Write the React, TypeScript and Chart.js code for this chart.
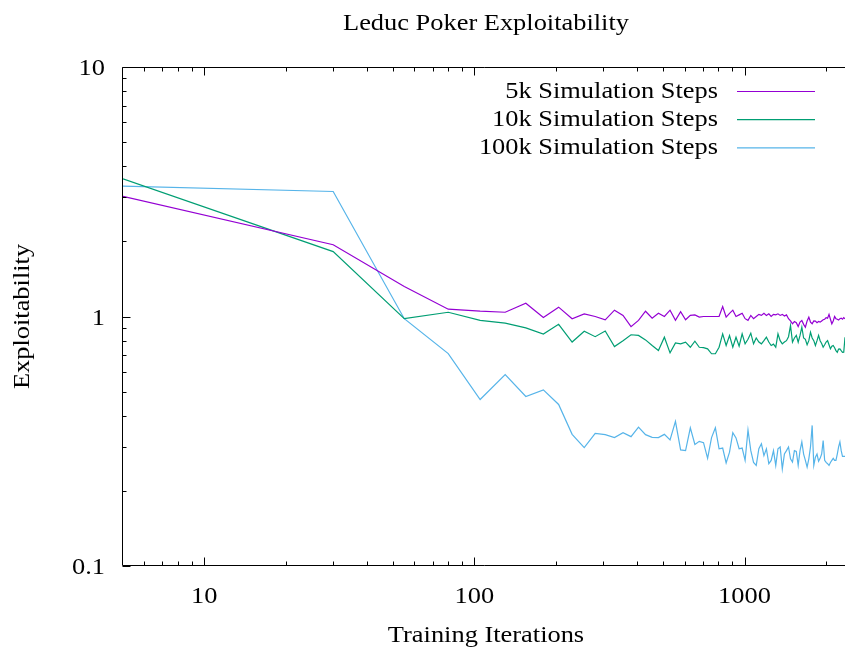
import { useEffect, useRef } from "react";
import { Chart, registerables } from "chart.js";

Chart.register(...registerables);

const iterations = [
  5, 30, 55, 80, 105, 130, 155, 180, 205, 230,
  255, 280, 305, 330, 355, 380, 405, 430, 455, 480,
  505, 530, 555, 580, 605, 630, 655, 680, 705, 730,
  755, 780, 805, 830, 855, 880, 905, 930, 955, 980,
  1005, 1030, 1055, 1080, 1105, 1130, 1155, 1180, 1205, 1230,
  1255, 1280, 1305, 1330, 1355, 1380, 1405, 1430, 1455, 1480,
  1505, 1530, 1555, 1580, 1605, 1630, 1655, 1680, 1705, 1730,
  1755, 1780, 1805, 1830, 1855, 1880, 1905, 1930, 1955, 1980,
  2005, 2030, 2055, 2080, 2105, 2130, 2155, 2180, 2205, 2230,
  2255, 2280, 2305, 2330, 2355,
];

const steps5k = [
  3.03, 1.94, 1.32, 1.07, 1.05, 1.04, 1.13, 0.99, 1.09, 0.98,
  1.025, 1.0, 0.97, 1.06, 1.01, 0.91, 0.965, 1.05, 0.985, 1.03,
  1.0, 1.06, 0.965, 1.045, 0.97, 1.01, 1.015, 0.995, 1.0, 1.0,
  1.0, 1.0, 1.0, 1.095, 0.995, 1.03, 1.06, 1.0, 1.015, 1.03,
  0.98, 0.965, 1.01, 0.98, 1.0, 1.02, 1.01, 1.03, 1.01, 1.025,
  1.0, 1.02, 1.015, 1.025, 1.01, 1.02, 1.005, 1.015, 0.98, 0.96,
  0.935, 0.955, 0.945, 0.912, 0.95, 0.964, 0.93, 0.906, 0.96, 0.994,
  0.95, 0.935, 0.96, 0.958, 0.945, 0.955, 0.949, 0.96, 0.97, 0.975,
  0.99, 0.985, 1.02, 0.975, 0.935, 0.96, 1.0, 0.98, 0.975, 0.968,
  0.98, 0.985, 0.975, 0.99, 0.98,
];

const steps10k = [
  3.56, 1.82, 0.98, 1.04, 0.965, 0.94, 0.9, 0.85, 0.93, 0.79,
  0.873, 0.83, 0.875, 0.758, 0.8, 0.845, 0.84, 0.806, 0.765, 0.731,
  0.826, 0.715, 0.784, 0.777, 0.789, 0.753, 0.796, 0.753, 0.75, 0.742,
  0.709, 0.709, 0.753, 0.852, 0.765, 0.839, 0.753, 0.826, 0.76, 0.852,
  0.777, 0.81, 0.857, 0.777, 0.82, 0.79, 0.777, 0.8, 0.826, 0.79,
  0.765, 0.775, 0.753, 0.852, 0.8, 0.777, 0.79, 0.8, 0.83, 0.92,
  0.789, 0.82, 0.84, 0.789, 0.84, 0.906, 0.82, 0.81, 0.77, 0.8,
  0.865, 0.82, 0.8, 0.765, 0.8, 0.84, 0.8, 0.78, 0.753, 0.77,
  0.79, 0.8, 0.77, 0.742, 0.76, 0.765, 0.75, 0.73, 0.719, 0.74,
  0.742, 0.73, 0.719, 0.72, 0.826,
];

const steps100k = [
  3.33, 3.17, 0.98, 0.71, 0.465, 0.585, 0.478, 0.508, 0.444, 0.337,
  0.298, 0.34, 0.336, 0.327, 0.342, 0.33, 0.36, 0.336, 0.328, 0.327,
  0.337, 0.32, 0.38, 0.292, 0.29, 0.358, 0.307, 0.316, 0.312, 0.27,
  0.327, 0.358, 0.295, 0.297, 0.259, 0.286, 0.342, 0.326, 0.295, 0.297,
  0.265, 0.351, 0.29, 0.26, 0.253, 0.295, 0.309, 0.277, 0.295, 0.257,
  0.265, 0.29, 0.253, 0.295, 0.3, 0.245, 0.281, 0.29, 0.3, 0.269,
  0.261, 0.29, 0.288, 0.253, 0.29, 0.314, 0.281, 0.265, 0.249, 0.269,
  0.3, 0.366, 0.253, 0.273, 0.281, 0.263, 0.27, 0.281, 0.318, 0.265,
  0.26, 0.257, 0.253, 0.26, 0.265, 0.27, 0.265, 0.265, 0.281, 0.3,
  0.314, 0.29, 0.275, 0.275, 0.275,
];

const seriesLabels = ["5k Simulation Steps", "10k Simulation Steps", "100k Simulation Steps"];
const seriesColors = ["#9400d3", "#009e73", "#56b4e9"];
const xMajorTicks = [10, 100, 1000];
const xTickLabels = ["10", "100", "1000"];
const yMajorTicks = [0.1, 1, 10];
const yTickLabels = ["0.1", "1", "10"];
const titleText = "Leduc Poker Exploitability";
const xTitleText = "Training Iterations";
const yTitleText = "Exploitability";

const FONT = '24px "Liberation Serif", "Times New Roman", serif';
const SX = 1.1;

function stretchedText(
  ctx: CanvasRenderingContext2D,
  text: string,
  x: number,
  y: number,
  align: CanvasTextAlign,
  rotate = false
) {
  ctx.save();
  ctx.translate(x, y);
  if (rotate) ctx.rotate(-Math.PI / 2);
  ctx.scale(SX, 1);
  ctx.textAlign = align;
  ctx.textBaseline = "alphabetic";
  ctx.fillText(text, 0, 0);
  ctx.restore();
}

function minorValues(min: number, max: number) {
  const out: number[] = [];
  for (let e = Math.floor(Math.log10(min)); e <= Math.ceil(Math.log10(max)); e++) {
    for (let m = 2; m <= 9; m++) {
      const v = m * Math.pow(10, e);
      if (v > min && v < max) out.push(v);
    }
  }
  return out;
}

const decorPlugin = {
  id: "decor",
  afterDatasetsDraw(chart: any) {
    const { ctx, chartArea: a, scales } = chart;
    const xs = scales.x;
    const ys = scales.y;
    ctx.save();
    ctx.strokeStyle = "#000";
    ctx.fillStyle = "#000";
    ctx.lineWidth = 1;

    const L = Math.round(a.left) - 0.5;
    const T = Math.round(a.top) + 0.5;
    const B = Math.round(a.bottom) - 0.5;

    // border
    ctx.beginPath();
    ctx.moveTo(a.right + 1, T);
    ctx.lineTo(L, T);
    ctx.lineTo(L, B);
    ctx.lineTo(a.right + 1, B);
    ctx.stroke();

    const major = 8;
    const minor = 4;
    ctx.beginPath();
    const xTick = (v: number, len: number) => {
      const px = Math.round(xs.getPixelForValue(v)) + 0.5;
      ctx.moveTo(px, B);
      ctx.lineTo(px, B - len);
      ctx.moveTo(px, T);
      ctx.lineTo(px, T + len);
    };
    const yTick = (v: number, len: number) => {
      const py = Math.round(ys.getPixelForValue(v)) + 0.5;
      ctx.moveTo(L, py);
      ctx.lineTo(L + len, py);
    };
    xMajorTicks.forEach((v) => xTick(v, major));
    minorValues(xs.min, xs.max).forEach((v) => xTick(v, minor));
    yMajorTicks.forEach((v) => yTick(v, major));
    minorValues(ys.min, ys.max).forEach((v) => yTick(v, minor));
    ctx.stroke();

    ctx.font = FONT;
    // tick labels
    xMajorTicks.forEach((v, i) => {
      stretchedText(ctx, xTickLabels[i], xs.getPixelForValue(v), a.bottom + 37, "center");
    });
    yMajorTicks.forEach((v, i) => {
      stretchedText(ctx, yTickLabels[i], a.left - 18, ys.getPixelForValue(v) + 8, "right");
    });

    // titles
    const cx = (a.left + a.right) / 2 + 2;
    stretchedText(ctx, titleText, cx, 30, "center");
    stretchedText(ctx, xTitleText, cx, a.bottom + 76, "center");
    stretchedText(ctx, yTitleText, 29, (a.top + a.bottom) / 2, "center", true);

    // legend
    chart.data.datasets.forEach((ds: any, i: number) => {
      const base = a.top + 30.5 + i * 28.2;
      stretchedText(ctx, ds.label, a.right - 127, base, "right");
      ctx.beginPath();
      ctx.strokeStyle = ds.borderColor;
      ctx.lineWidth = 1.2;
      ctx.moveTo(a.right - 108, base - 6);
      ctx.lineTo(a.right - 30, base - 6);
      ctx.stroke();
    });
    ctx.restore();
  },
};

export default function App() {
  const ref = useRef<HTMLCanvasElement>(null);
  useEffect(() => {
    document.body.style.margin = "0";
    const seriesValues = [steps5k, steps10k, steps100k];
    const chart = new Chart(ref.current!, {
      type: "line",
      data: {
        datasets: seriesValues.map((vals, i) => ({
          label: seriesLabels[i],
          data: iterations.map((x, j) => ({ x, y: vals[j] })),
          borderColor: seriesColors[i],
          backgroundColor: seriesColors[i],
          borderWidth: 1.2,
          pointRadius: 0,
          tension: 0,
          fill: false,
        })),
      },
      options: {
        animation: false,
        responsive: false,
        devicePixelRatio: 1,
        layout: { padding: { top: 67, left: 0, right: 0, bottom: 0 } },
        plugins: {
          legend: { display: false },
          title: { display: false },
          tooltip: { enabled: false },
        },
        scales: {
          x: {
            type: "logarithmic",
            min: 5,
            max: 2355,
            grid: { display: false },
            border: { display: false },
            ticks: { display: false },
            afterFit: (s: any) => {
              s.height = 84;
            },
          },
          y: {
            type: "logarithmic",
            min: 0.1,
            max: 10,
            grid: { display: false },
            border: { display: false },
            ticks: { display: false },
            afterFit: (s: any) => {
              s.width = 123;
            },
          },
        },
      } as any,
      plugins: [decorPlugin],
    });
    return () => chart.destroy();
  }, []);
  return (
    <div style={{ width: 845, height: 650 }}>
      <canvas ref={ref} width={845} height={650} style={{ display: "block", width: 845, height: 650 }} />
    </div>
  );
}
